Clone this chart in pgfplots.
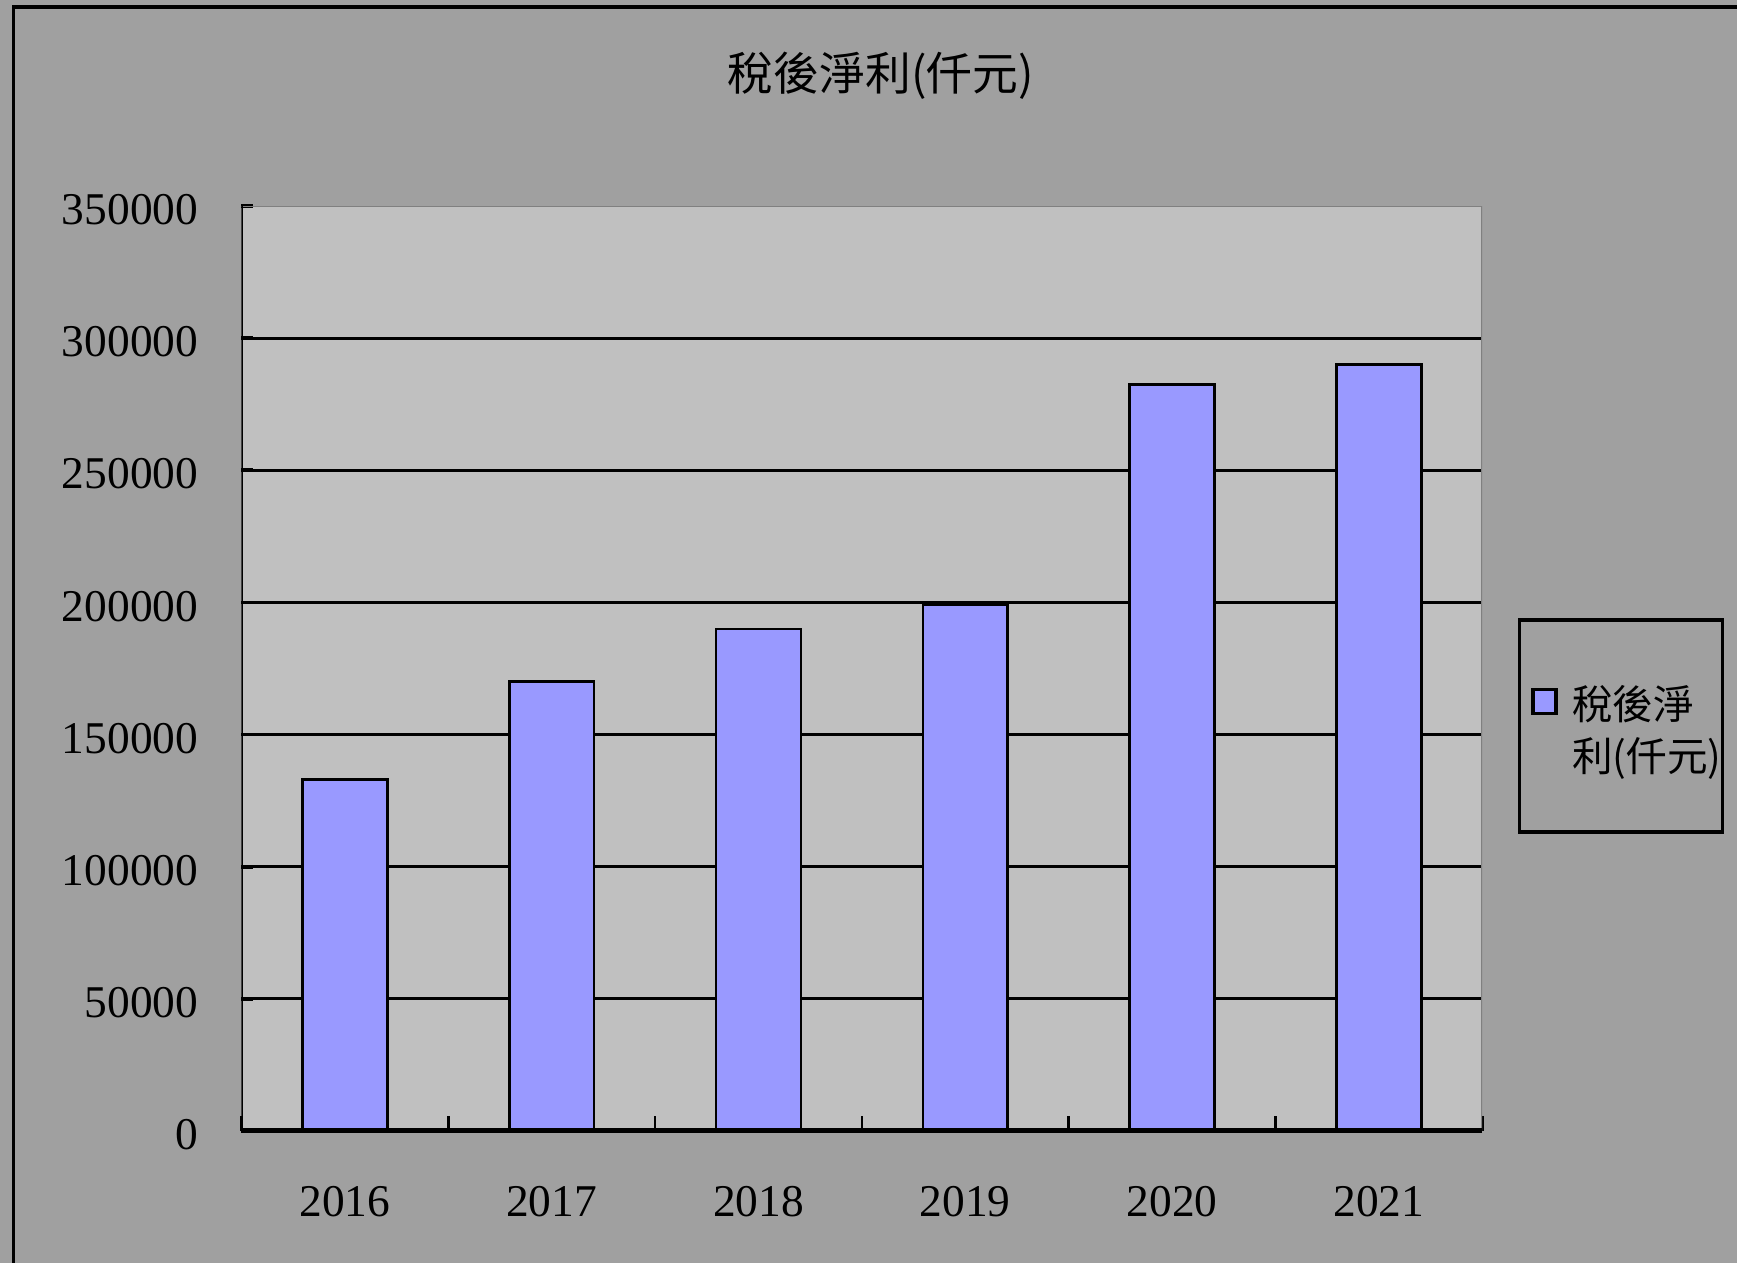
\documentclass[border=0pt]{standalone}
\usepackage{pgfplots}
\pgfplotsset{compat=1.18}
\usepackage{fontspec}
\setmainfont{Liberation Serif}
\newfontfamily\cjk{Noto Sans CJK TC}
\definecolor{bg}{HTML}{A0A0A0}
\definecolor{pa}{HTML}{C0C0C0}
\definecolor{barc}{HTML}{9999FF}
\definecolor{edge}{HTML}{808080}
\begin{document}
\begin{tikzpicture}
\clip (0pt,0pt) rectangle (470.4pt,342pt);
\fill[bg] (0pt,0pt) rectangle (470.4pt,342pt);
\draw[black, line width=0.8pt] (3.75pt,-10pt) -- (3.75pt,340.1pt);
\draw[black, line width=1.1pt] (3.35pt,340.1pt) -- (480pt,340.1pt);
\node[font=\cjk\fontsize{12.4}{14}\selectfont] at (238.5pt,321.6pt) {稅後淨利(仟元)};
\begin{axis}[
  at={(65.4pt,35.7pt)}, anchor=south west,
  scale only axis, width=336pt, height=250.5pt,
  xmin=-0.5, xmax=5.5, ymin=0, ymax=350000,
  axis background/.style={fill=pa},
  axis line style={draw=none},
  xtick={0,1,2,3,4,5},
  xticklabels={2016,2017,2018,2019,2020,2021},
  major x tick style={draw=none},
  minor xtick={-0.5,0.5,1.5,2.5,3.5,4.5,5.5},
  minor x tick style={black, line width=0.7pt},
  minor tick length=4.2pt,
  xtick pos=bottom, ytick pos=left,
  ytick={0,50000,100000,150000,200000,250000,300000},
  extra y ticks={350000},
  extra y tick style={grid=none},
  ymajorgrids,
  major grid style={black, line width=0.8pt},
  y tick style={black, line width=1pt},
  major tick length=3pt,
  tick align=inside,
  scaled y ticks=false,
  /pgf/number format/.cd, fixed, set thousands separator={}, assume math mode=true,
  /pgfplots/.cd,
  tick label style={font=\fontsize{12.3}{14}\selectfont},
  yticklabel style={xshift=-8.2pt, yshift=-1pt},
  xticklabel style={yshift=-11.4pt},
  legend style={at={(1.0286,0.5545)}, anchor=north west, draw=black, line width=1pt,
     fill=none, inner xsep=3.2pt, inner ysep=12pt, column sep=4pt,
     nodes={inner sep=0pt, text depth=, text height=, anchor=base west},
     font=\cjk\fontsize{11}{14.1}\selectfont},
  legend image code/.code={\draw[fill=barc, draw=black, line width=0.9pt] (0pt,1.6pt) rectangle (6.2pt,8.1pt);},
]
\addplot[ybar, bar width=0.41, fill=barc, draw=black, line width=0.7pt] coordinates {
(0,133000) (1,170000) (2,190000) (3,199000) (4,282500) (5,290000)};
\addlegendentry{\makebox[37.5pt][l]{\begin{tabular}[t]{@{}l@{}}\rule{0pt}{15pt}稅後淨\\利(仟元)\end{tabular}}}
\draw[edge, line width=0.6pt] (rel axis cs:0,1) -- (rel axis cs:1,1) -- (rel axis cs:1,0);
\draw[black, line width=0.8pt] (rel axis cs:0,1) -- (rel axis cs:0,0);
\draw[black, line width=1.4pt] (rel axis cs:0,0) -- (rel axis cs:1,0);
\end{axis}
\end{tikzpicture}
\end{document}
